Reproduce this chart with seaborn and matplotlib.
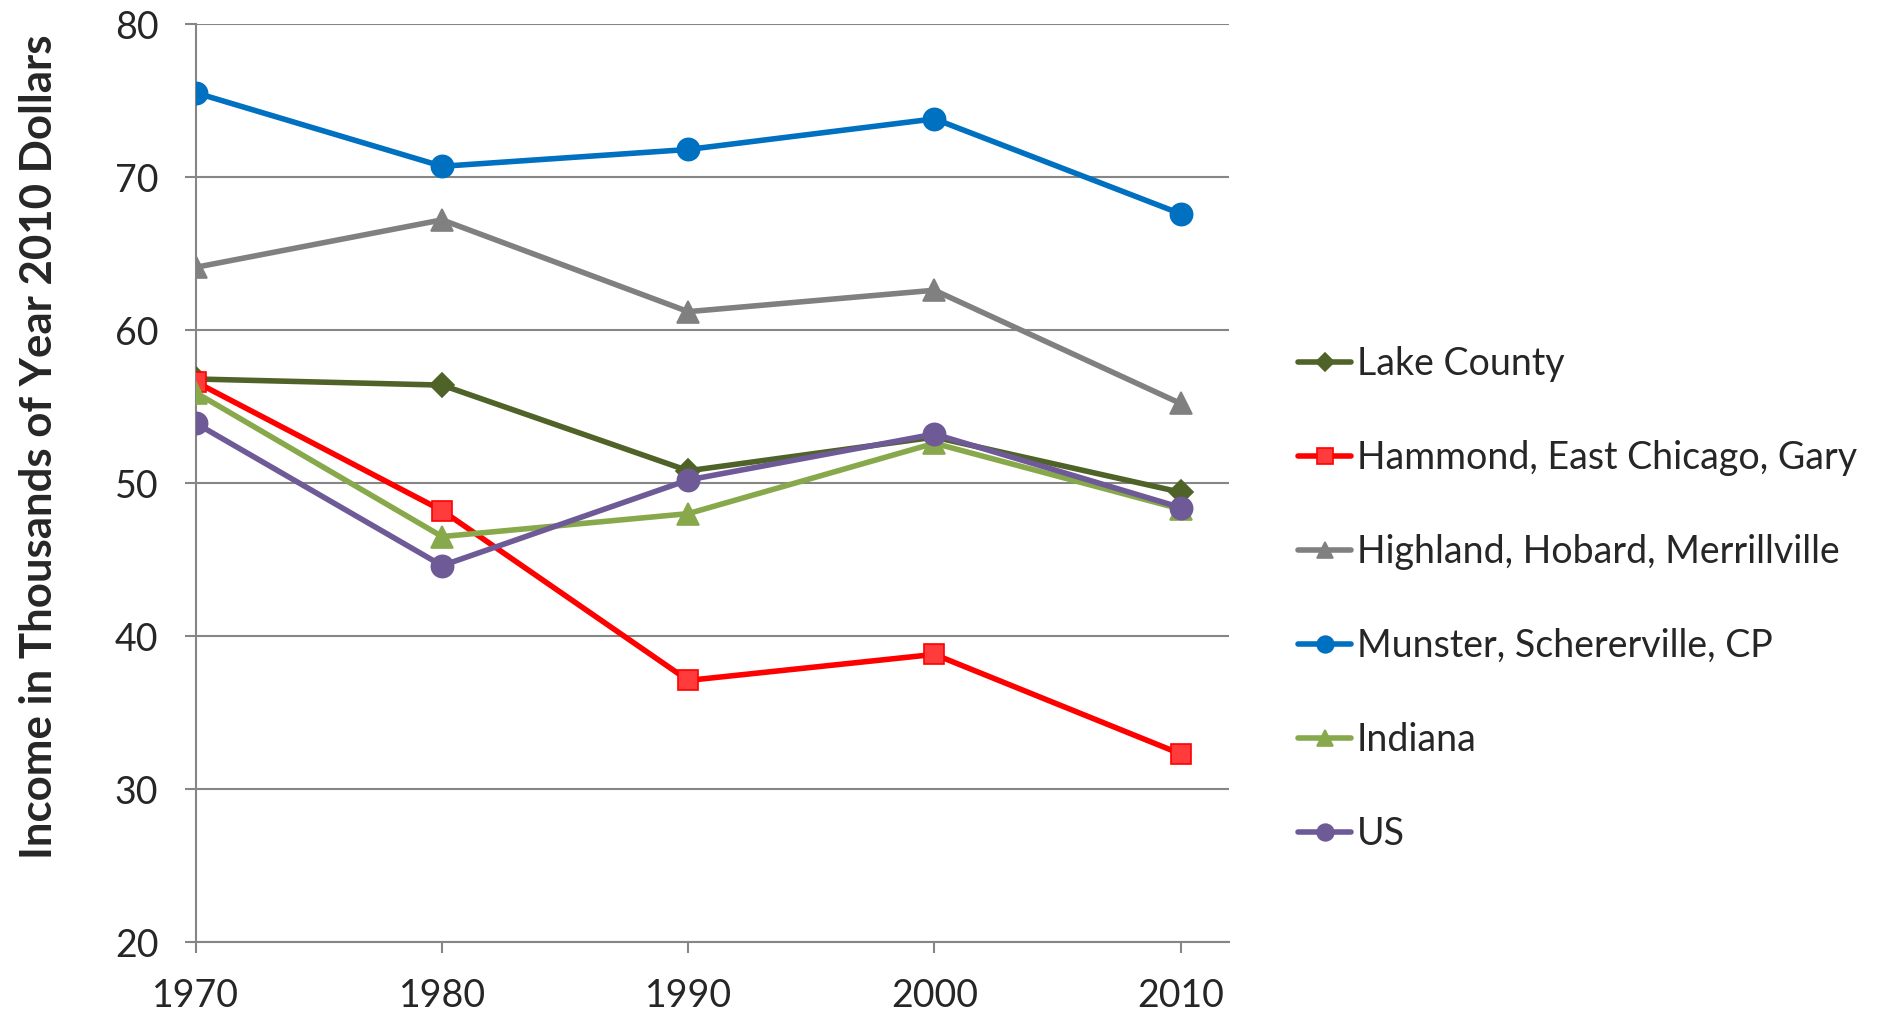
import matplotlib
matplotlib.use("Agg")
import matplotlib.pyplot as plt
import seaborn as sns
import pandas as pd

years = [1970, 1980, 1990, 2000, 2010]
series_names = ["Lake County", "Hammond, East Chicago, Gary",
                "Highland, Hobard, Merrillville", "Munster, Schererville, CP",
                "Indiana", "US"]
lake = [56.8, 56.4, 50.8, 53.0, 49.4]
hammond = [56.6, 48.2, 37.1, 38.8, 32.3]
highland = [64.1, 67.2, 61.2, 62.6, 55.2]
munster = [75.5, 70.7, 71.8, 73.8, 67.6]
indiana = [55.9, 46.5, 48.0, 52.6, 48.3]
us = [53.9, 44.6, 50.2, 53.2, 48.4]
values = [lake, hammond, highland, munster, indiana, us]
y_ticks = [20, 30, 40, 50, 60, 70, 80]
y_label = "Income in Thousands of Year 2010 Dollars"

colors = ["#4F6228", "#FF0000", "#808080", "#0070C0", "#87A84B", "#6E5A96"]
face = ["#4F6228", "#FF3B3B", "#808080", "#0070C0", "#87A84B", "#6E5A96"]
markers = ["D", "s", "^", "o", "^", "o"]
msizes = [12, 15, 16, 16, 16, 16]

df = pd.DataFrame({
    "Year": years * len(series_names),
    "Value": [v for s in values for v in s],
    "Series": [n for n in series_names for _ in years],
})

sns.set_theme(style="white")
plt.rcParams["font.family"] = ["Lato", "DejaVu Sans"]

fig = plt.figure(figsize=(18.93, 10.17), dpi=100)
ax = fig.add_axes([0.1035, 0.0737, 0.5455, 0.9027])

for i, name in enumerate(series_names):
    sub = df[df["Series"] == name]
    sns.lineplot(data=sub, x="Year", y="Value", ax=ax, color=colors[i],
                 linewidth=4.0, marker=markers[i], markersize=msizes[i],
                 markerfacecolor=face[i], markeredgecolor=colors[i],
                 markeredgewidth=1.2, label=name, zorder=3 + i)

ax.set_xlim(1970, 2011.95)
ax.set_ylim(20, 80)
ax.set_yticks(y_ticks)
ax.set_xticks(years)
ax.set_xticklabels([str(y) for y in years])
ax.yaxis.grid(True, color="#868686", linewidth=1.5)
ax.xaxis.grid(False)
for s in ["top", "right"]:
    ax.spines[s].set_visible(False)
for s in ["left", "bottom"]:
    ax.spines[s].set_color("#868686")
    ax.spines[s].set_linewidth(1.5)
ax.tick_params(axis="both", which="major", labelsize=27, color="#868686",
               length=8, width=1.5, direction="out", left=True, bottom=True)
ax.tick_params(axis="y", pad=19)
ax.tick_params(axis="x", pad=18)
ax.set_xlabel("")
ax.set_ylabel(y_label, fontsize=31.5, fontweight="bold")
ax.yaxis.set_label_coords(-0.133, 0.539)

ax.legend(loc="center left", bbox_to_anchor=(0.676, 0.411),
          bbox_transform=fig.transFigure, frameon=False, fontsize=27,
          handlelength=1.4, handletextpad=0.15, labelspacing=1.55,
          borderpad=0, markerscale=0.75)

fig.savefig("out.png", dpi=100)
